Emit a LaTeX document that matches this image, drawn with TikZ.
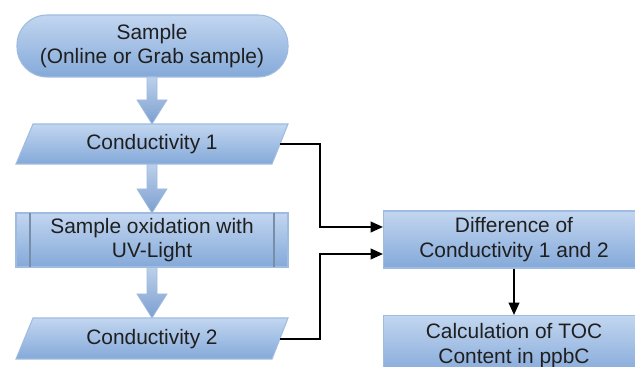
\documentclass[tikz,border=0pt]{standalone}
\usepackage{fontspec}
\setmainfont{Liberation Sans}
\usetikzlibrary{arrows.meta}
\definecolor{btop}{HTML}{C2D6F0}
\definecolor{bbot}{HTML}{84A9D9}
\definecolor{bline}{HTML}{9FBCE0}
\definecolor{atop}{HTML}{BCD0EA}
\definecolor{abot}{HTML}{7C9FD0}
\tikzset{
  boxfill/.style={top color=btop,bottom color=bbot,draw=bline,line width=0.6pt},
  lbl/.style={font=\fontsize{11.9}{14}\selectfont,align=center,text=black!88},
  boxnode/.style={boxfill,lbl,minimum width=5.24cm,inner sep=0pt},
  conn/.style={line width=1.1pt,-{Triangle[length=7pt,width=6pt]}},
  blockarrow/.style={top color=atop,bottom color=abot,draw=bline,line width=0.4pt}
}
\begin{document}
\begin{tikzpicture}[x=0.02cm,y=-0.02cm]
\useasboundingbox (0,0) rectangle (635,367);
\clip (0,0) rectangle (635,367);
% Sample (terminal)
\draw[boxfill,rounded corners=0.6cm] (17,15) rectangle (288,77);
\node[lbl] (sample) at (152,46) {Sample\\(Online or Grab sample)};
% block arrows
\draw[blockarrow] (147,77) -- (157,77) -- (157,100) -- (167,100) -- (152,124) -- (137,100) -- (147,100) -- cycle;
\draw[blockarrow] (147,164) -- (157,164) -- (157,189) -- (167,189) -- (152,213) -- (137,189) -- (147,189) -- cycle;
\draw[blockarrow] (147,267) -- (157,267) -- (157,294) -- (167,294) -- (152,318) -- (137,294) -- (147,294) -- cycle;
% Conductivity 1
\draw[boxfill] (33,124) -- (288,124) -- (272,164) -- (16,164) -- cycle;
\node[lbl] (c1) at (152,144) {Conductivity 1};
\coordinate (c1out) at (280,144);
% Oxidation (predefined process)
\draw[boxfill] (16,213) rectangle (288,267);
\draw[bline!75!black,line width=0.6pt] (30,213) -- (30,267) (274,213) -- (274,267);
\node[lbl] (ox) at (152,240) {Sample oxidation with\\UV-Light};
% Conductivity 2
\draw[boxfill] (33,318) -- (288,318) -- (272,359) -- (16,359) -- cycle;
\node[lbl] (c2) at (152,339) {Conductivity 2};
\coordinate (c2out) at (280,339);
% right boxes
\node[boxnode,minimum height=1.14cm] (diff) at (514,239.5) {Difference of\\Conductivity 1 and 2};
\node[boxnode,minimum height=1.2cm,anchor=north] (calc) at (514,315) {Calculation of TOC\\Content in ppbC};
\coordinate (d1in) at (383,227);
\coordinate (d2in) at (383,254);
% connectors
\draw[conn] (c1out) -- (320,144) |- (d1in);
\draw[conn] (c2out) -- (320,339) |- (d2in);
\draw[conn] (diff.south) -- (calc.north);
\end{tikzpicture}
\end{document}
